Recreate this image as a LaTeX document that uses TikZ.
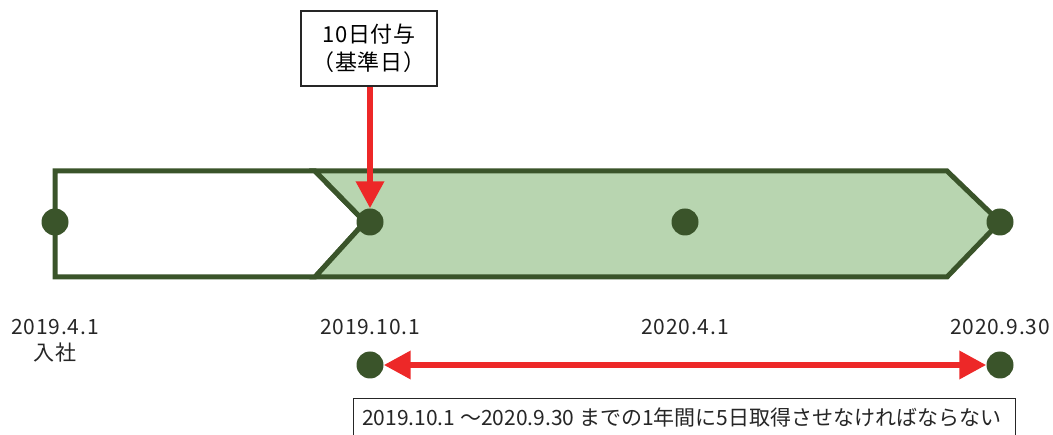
\documentclass[tikz,border=0pt]{standalone}
\usepackage{fontspec}
\setmainfont{Noto Sans CJK JP}
\usetikzlibrary{arrows.meta}
\definecolor{dkgreen}{RGB}{58,84,42}
\definecolor{ltgreen}{RGB}{184,213,176}
\definecolor{arrred}{RGB}{237,40,40}
\tikzset{
  dot/.style={circle,fill=dkgreen,inner sep=0pt,minimum size=27pt},
  band/.style={draw=dkgreen,line width=5pt,line join=miter},
  lbl/.style={font=\fontsize{21}{24}\selectfont\addfontfeature{LetterSpace=4},inner sep=0pt,text=black!85},
  redarrow/.style={draw=arrred,line width=6.5pt,-{Triangle[length=27pt,width=27pt]}},
  box/.style={draw=black!85,line width=1.3pt,fill=white}
}
\begin{document}
\begin{tikzpicture}[x=1pt,y=-1pt]
\useasboundingbox (0,0) rectangle (1053,435);
% bands
\draw[band,fill=white] (55,171) -- (315,171) -- (365,222) -- (315,277) -- (55,277) -- cycle;
\draw[band,fill=ltgreen] (315,171) -- (947,171) -- (1000,222) -- (947,277) -- (315,277) -- (365,222) -- cycle;
% dots
\node[dot] (d1) at (55,222) {};
\node[dot] (d2) at (370,222) {};
\node[dot] (d3) at (685,222) {};
\node[dot] (d4) at (1000,222) {};
% top box
\node[box,minimum width=136pt,minimum height=75pt,align=center,font=\fontsize{22}{28}\selectfont\addfontfeature{LetterSpace=3},inner sep=0pt] (top) at (369,48.5) {10日付与\\（基準日）};
\draw[redarrow] (top.south -| d2) -- (d2.north);
% labels
\node[lbl] (l1) at (55,327) {2019.4.1};
\node[lbl] (l1b) at (55,353) {入社};
\node[lbl] (l2) at (370,327) {2019.10.1};
\node[lbl] (l3) at (685,327) {2020.4.1};
\node[lbl] (l4) at (1000,327) {2020.9.30};
% bottom
\node[dot] (b1) at (370,365) {};
\node[dot] (b2) at (1000,365) {};
\draw[draw=arrred,line width=6.5pt,{Triangle[length=27pt,width=27pt]}-{Triangle[length=27pt,width=27pt]}] (b1.east) -- (b2.west);
\node[box,anchor=north west,minimum width=662pt,minimum height=50pt,inner sep=0pt] (bb) at (353,398) {};
\node[inner sep=0pt,text=black!85,font=\fontsize{21}{24}\selectfont,anchor=west] (bt) at (362,417) {2019.10.1 ～2020.9.30 までの1年間に5日取得させなければならない};
\end{tikzpicture}
\end{document}
